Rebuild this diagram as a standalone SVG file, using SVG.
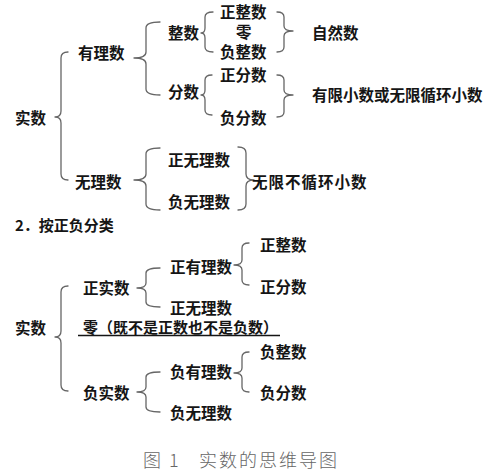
<svg xmlns="http://www.w3.org/2000/svg" width="493" height="471" viewBox="0 0 493 471">
<style>
.t{font-family:"Noto Sans CJK SC","Noto Sans",sans-serif;font-size:15.5px;font-weight:700;fill:#151515}
.h{font-family:"Noto Sans CJK SC","Noto Sans",sans-serif;font-size:15px;font-weight:700;fill:#151515}
.cap{font-family:"Noto Sans CJK SC","Noto Sans",sans-serif;font-size:18px;font-weight:300;fill:#666;letter-spacing:2px}
.b{fill:none;stroke:#666;stroke-width:1.3;stroke-linecap:round;stroke-linejoin:round}
</style>
<rect width="493" height="471" fill="#fff"/>
<g id="connectors">
<path class="b" d="M68,52 Q61,52 61,58 L61,111 Q61,117 55,117 Q61,117 61,123 L61,174 Q61,180 68,180"/>
<path class="b" d="M160,22 Q146,22 146,28 L146,52 Q146,58 134,58 Q146,58 146,64 L146,89 Q146,95 160,95"/>
<path class="b" d="M213,12 Q205,12 205,17 L205,28 Q205,33 201,33 Q205,33 205,38 L205,47 Q205,52 213,52"/>
<path class="b" d="M277,12 Q284,12 284,17 L284,26 Q284,31 293,31 Q284,31 284,36 L284,47 Q284,52 277,52"/>
<path class="b" d="M212,75 Q205,75 205,80 L205,90 Q205,95 201,95 Q205,95 205,100 L205,110 Q205,115 212,115"/>
<path class="b" d="M277,75 Q284,75 284,80 L284,90 Q284,95 293,95 Q284,95 284,100 L284,112 Q284,117 277,117"/>
<path class="b" d="M160,148 Q146,148 146,154 L146,174 Q146,180 134,180 Q146,180 146,186 L146,204 Q146,210 160,210"/>
<path class="b" d="M238,147 Q246,147 246,153 L246,174 Q246,180 254,180 Q246,180 246,186 L246,204 Q246,210 238,210"/>
<path class="b" d="M68,286 Q61,286 61,292 L61,331 Q61,337 55,337 Q61,337 61,343 L61,385 Q61,391 68,391"/>
<path class="b" d="M160,268 Q146,268 146,273 L146,283 Q146,288 137,288 Q146,288 146,293 L146,302 Q146,307 160,307"/>
<path class="b" d="M249,243 Q242,243 242,248 L242,260 Q242,265 234,265 Q242,265 242,270 L242,280 Q242,285 249,285"/>
<path class="b" d="M160,372 Q146,372 146,377 L146,387 Q146,392 137,392 Q146,392 146,397 L146,407 Q146,412 160,412"/>
<path class="b" d="M249,352 Q242,352 242,357 L242,368 Q242,373 234,373 Q242,373 242,378 L242,387 Q242,392 249,392"/>
<line x1="78" y1="335.5" x2="280" y2="335.5" stroke="#151515" stroke-width="1.3"/>
</g>
<g id="n-shishu1"><text class="t" x="15" y="123.5">实数</text></g>
<g id="n-youlishu"><text class="t" x="78" y="58.5">有理数</text></g>
<g id="n-zhengshu"><text class="t" x="168" y="38.5">整数</text></g>
<g id="n-zhengzhengshu1"><text class="t" x="220" y="17.5">正整数</text></g>
<g id="n-ling1"><text class="t" x="236" y="37.5">零</text></g>
<g id="n-fuzhengshu1"><text class="t" x="220" y="57.5">负整数</text></g>
<g id="n-ziranshu"><text class="t" x="312" y="38.5">自然数</text></g>
<g id="n-fenshu"><text class="t" x="168" y="97.5">分数</text></g>
<g id="n-zhengfenshu1"><text class="t" x="220" y="80.5">正分数</text></g>
<g id="n-fufenshu1"><text class="t" x="220" y="123.5">负分数</text></g>
<g id="n-youxian"><text class="t" x="312" y="100.5">有限小数或无限循环小数</text></g>
<g id="n-wulishu"><text class="t" x="75" y="187.5">无理数</text></g>
<g id="n-zhengwulishu1"><text class="t" x="168" y="165.5">正无理数</text></g>
<g id="n-fuwulishu1"><text class="t" x="168" y="207.5">负无理数</text></g>
<g id="n-wuxian"><text class="t" x="252" y="187.5" letter-spacing="1">无限不循环小数</text></g>
<g id="heading2"><text class="h" x="15" y="230.5">2．按正负分类</text></g>
<g id="n-shishu2"><text class="t" x="15" y="333.5">实数</text></g>
<g id="n-zhengshishu"><text class="t" x="83" y="293.5">正实数</text></g>
<g id="n-zhengyoulishu"><text class="t" x="170" y="272.5">正有理数</text></g>
<g id="n-zhengzhengshu2"><text class="t" x="260" y="250.5">正整数</text></g>
<g id="n-zhengfenshu2"><text class="t" x="260" y="292.5">正分数</text></g>
<g id="n-zhengwulishu2"><text class="t" x="170" y="313.5">正无理数</text></g>
<g id="n-ling2"><text class="h" x="83" y="333">零（既不是正数也不是负数）</text></g>
<g id="n-fushishu"><text class="t" x="83" y="398.5">负实数</text></g>
<g id="n-fuyoulishu"><text class="t" x="170" y="377.5">负有理数</text></g>
<g id="n-fuzhengshu2"><text class="t" x="260" y="357.5">负整数</text></g>
<g id="n-fufenshu2"><text class="t" x="260" y="398.5">负分数</text></g>
<g id="n-fuwulishu2"><text class="t" x="170" y="418.5">负无理数</text></g>
<g id="caption"><text class="cap" y="467"><tspan x="143">图</tspan><tspan x="169">1</tspan><tspan x="199">实数的思维导图</tspan></text></g>
</svg>
